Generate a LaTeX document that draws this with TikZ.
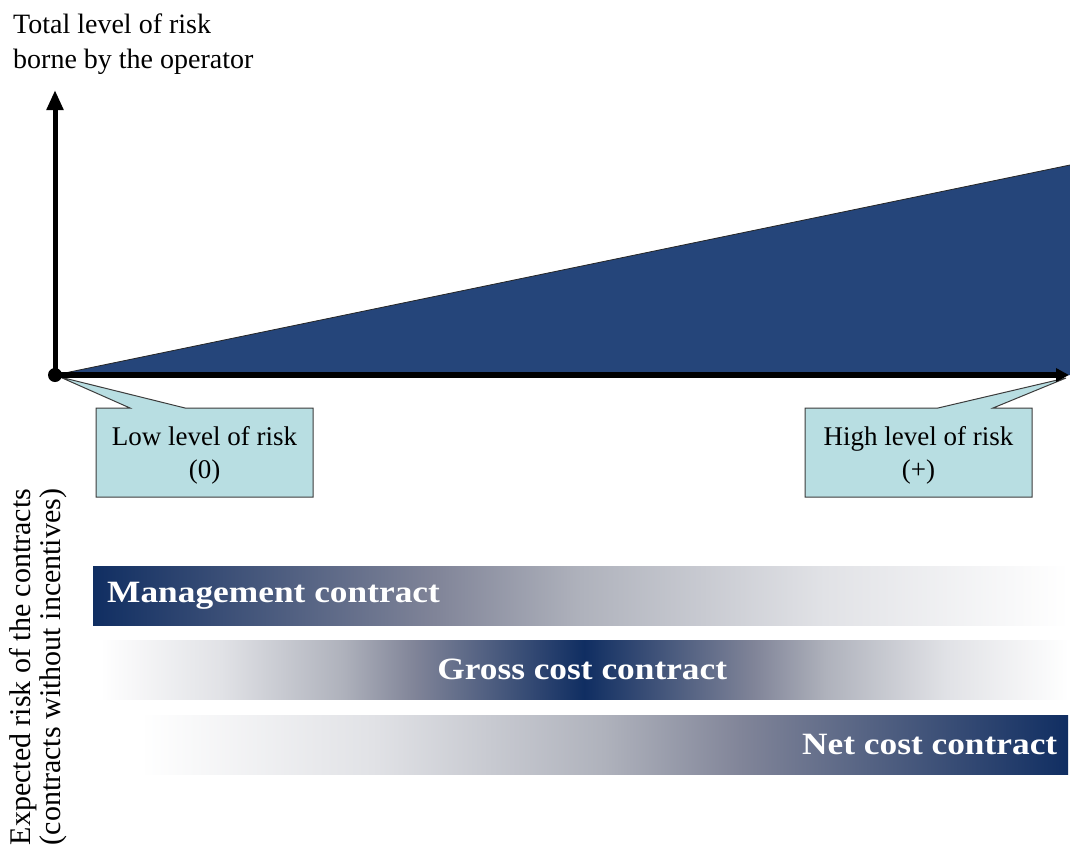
\documentclass[tikz,border=0pt]{standalone}
\usepackage{fontspec}
\setmainfont{Liberation Serif}
\newfontfamily\barfont[FakeStretch=1.14]{Liberation Serif}
\usetikzlibrary{arrows.meta,calc}

\definecolor{wedgeblue}{RGB}{37,69,122}
\definecolor{barnavy}{RGB}{16,46,98}
\definecolor{calloutfill}{RGB}{184,222,226}
\definecolor{calloutline}{RGB}{60,60,60}
\definecolor{greyA}{RGB}{128,132,152}
\definecolor{greyB}{RGB}{175,178,188}
\definecolor{greyC}{RGB}{225,226,230}

% bar shadings: the path spans 25bp..75bp of each shading
\pgfdeclarehorizontalshading{fadeout}{100bp}{color(0bp)=(barnavy); color(25bp)=(barnavy); color(42.5bp)=(greyA); color(50bp)=(greyB); color(62.5bp)=(greyC); color(75bp)=(white); color(100bp)=(white)}
\pgfdeclarehorizontalshading{fadein}{100bp}{color(0bp)=(white); color(25bp)=(white); color(37.5bp)=(greyC); color(50bp)=(greyB); color(57.5bp)=(greyA); color(75bp)=(barnavy); color(100bp)=(barnavy)}
\pgfdeclarehorizontalshading{peak}{100bp}{color(0bp)=(white); color(25bp)=(white); color(31.25bp)=(greyC); color(37.5bp)=(greyB); color(41.25bp)=(greyA); color(50bp)=(barnavy); color(58.75bp)=(greyA); color(62.5bp)=(greyB); color(68.75bp)=(greyC); color(75bp)=(white); color(100bp)=(white)}

\tikzset{
  axisline/.style={line width=5pt, black},
  callout/.style={fill=calloutfill, draw=calloutline, line width=1pt, line join=miter},
  calltext/.style={align=center, inner sep=0pt, font=\fontsize{27}{33}\selectfont},
  bar/.style={inner sep=0pt, minimum height=59pt, anchor=north west, shade},
  bartext/.style={inner sep=0pt, text=white, font=\barfont\bfseries\fontsize{31}{31}\selectfont},
  label/.style={inner sep=0pt, font=\fontsize{28}{35}\selectfont}
}

\begin{document}
\begin{tikzpicture}[x=1pt,y=-1pt]
\useasboundingbox (0,0) rectangle (1070,846);

% axis title
\node[label, anchor=north west, align=left] (ytitle) at (13,14) {Total level of risk\\borne by the operator};

% key points
\coordinate (o) at (55,375);
\coordinate (ytip) at (55,90);
\coordinate (xtip) at (1069,375);
\coordinate (wedgetop) at (1070,165);
\coordinate (wedgecorner) at (1070,375);

% rising risk wedge
\fill[wedgeblue] (o) -- (wedgetop) -- (wedgecorner) -- cycle;
\draw[line width=0.8pt, black!85] (o) -- (wedgetop);

% callouts
\coordinate (lowtip) at (60,377);
\filldraw[callout] (96,408) -- (130,408) -- (lowtip) -- (185,408) -- (313,408) -- (313,497) -- (96,497) -- cycle;
\node[calltext] (lowbox) at (204.5,455) {Low level of risk\\(0)};

\coordinate (hightip) at (1066,378);
\filldraw[callout] (805,408) -- (938,408) -- (hightip) -- (993,408) -- (1032,408) -- (1032,497) -- (805,497) -- cycle;
\node[calltext] (highbox) at (918.5,455) {High level of risk\\(+)};

% axes
\draw[axisline, -{Triangle[width=16pt,length=20pt]}] (o) -- (ytip);
\draw[line width=6pt, -{Triangle[width=13pt,length=13pt]}] (o) -- (xtip);
\fill (o) circle (7pt);

% contract bars
\node[bar, shading=fadeout, minimum width=975pt] (mgmt) at (93,566) {};
\node[bartext, anchor=west] (mgmttext) at ([xshift=14pt]mgmt.west) {Management contract};

\node[bar, shading=peak, minimum width=968pt] (gross) at (100,640) {};
\node[bartext] (grosstext) at ([xshift=-2pt]gross.center) {Gross cost contract};

\node[bar, shading=fadein, minimum width=928pt] (net) at (140,715) {};
\node[bartext, anchor=east] (nettext) at ([xshift=-11pt]net.east) {Net cost contract};

% vertical label
\node[label, rotate=90, align=center, font=\fontsize{30}{30}\selectfont] (xtitle) at (38,667) {Expected risk of the contracts\\(contracts without incentives)};
\end{tikzpicture}
\end{document}
